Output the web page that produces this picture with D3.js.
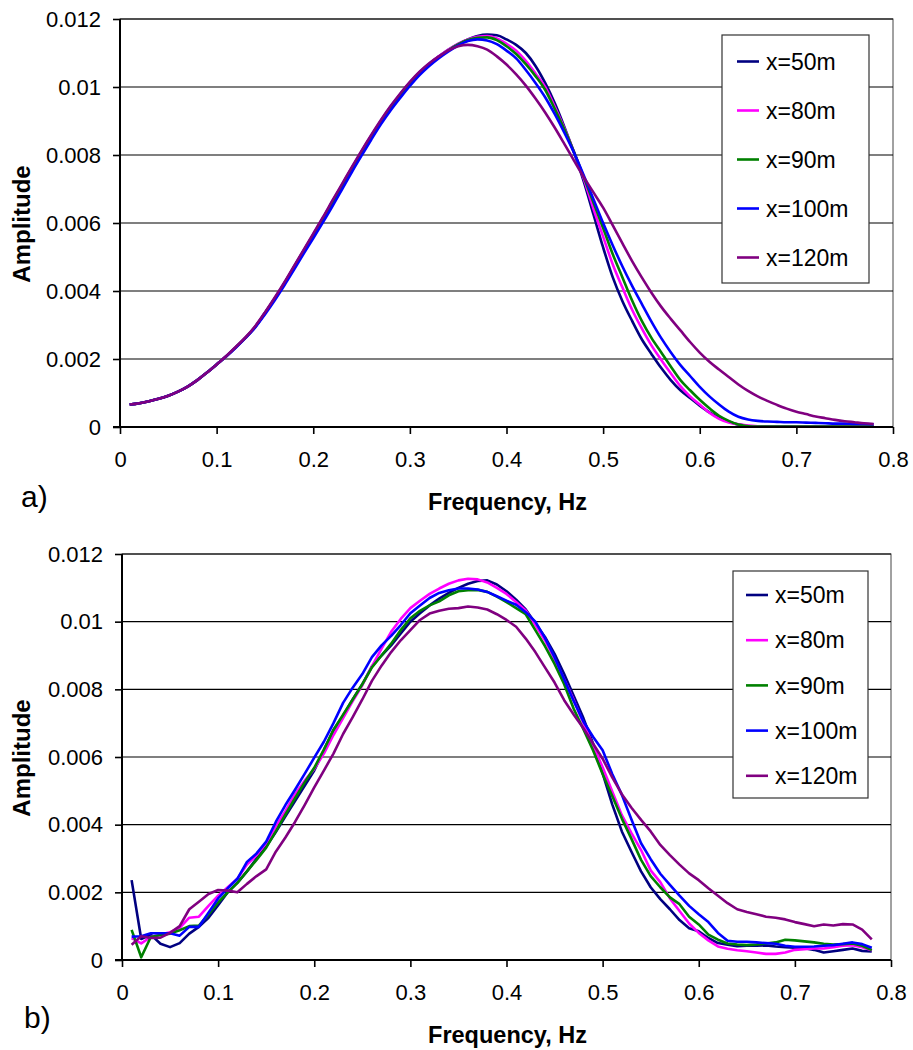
<!DOCTYPE html>
<html>
<head>
<meta charset="utf-8">
<script src="https://cdn.jsdelivr.net/npm/d3@7"></script>
<style>
  html, body { margin: 0; padding: 0; background: #fff; }
  svg { display: block; }
  text { font-family: "Liberation Sans", Arial, sans-serif; fill: #000; }
</style>
</head>
<body>
<svg id="fig" width="913" height="1050"></svg>
<script>
// Frequency samples (Hz)
const freq = [0.01,0.02,0.03,0.04,0.05,0.06,0.07,0.08,0.09,0.10,
  0.11,0.12,0.13,0.14,0.15,0.16,0.17,0.18,0.19,0.20,
  0.21,0.22,0.23,0.24,0.25,0.26,0.27,0.28,0.29,0.30,
  0.31,0.32,0.33,0.34,0.35,0.36,0.37,0.38,0.39,0.40,
  0.41,0.42,0.43,0.44,0.45,0.46,0.47,0.48,0.49,0.50,
  0.51,0.52,0.53,0.54,0.55,0.56,0.57,0.58,0.59,0.60,
  0.61,0.62,0.63,0.64,0.65,0.66,0.67,0.68,0.69,0.70,
  0.71,0.72,0.73,0.74,0.75,0.76,0.77,0.78];

const seriesNames = ["x=50m", "x=80m", "x=90m", "x=100m", "x=120m"];
const seriesColors = ["#000080", "#FF00FF", "#008000", "#0000FF", "#800080"];

const xTicks = [0, 0.1, 0.2, 0.3, 0.4, 0.5, 0.6, 0.7, 0.8];
const xTickLabels = ["0", "0.1", "0.2", "0.3", "0.4", "0.5", "0.6", "0.7", "0.8"];
const yTicks = [0, 0.002, 0.004, 0.006, 0.008, 0.010, 0.012];
const yTickLabels = ["0", "0.002", "0.004", "0.006", "0.008", "0.01", "0.012"];

// Panel a) amplitude spectra
const a50 = [0.00066,0.00070,0.00076,0.00083,0.00092,0.00104,0.00119,0.00138,0.00160,0.00184,
  0.00208,0.00235,0.00263,0.00295,0.00335,0.00377,0.00422,0.00470,0.00518,0.00566,
  0.00614,0.00664,0.00713,0.00762,0.00810,0.00856,0.00900,0.00941,0.00978,0.01013,
  0.01043,0.01068,0.01090,0.01110,0.01127,0.01140,0.01150,0.01154,0.01152,0.01140,
  0.01124,0.01100,0.01062,0.01012,0.00952,0.00882,0.00806,0.00722,0.00625,0.00528,
  0.00440,0.00370,0.00312,0.00258,0.00215,0.00174,0.00138,0.00108,0.00085,0.00063,
  0.00043,0.00027,0.00016,0.00007,0.00003,0.00001,0.00001,0.00001,0.00001,0.00001,
  0.00001,0.00001,0.00001,0.00001,0.00001,0.00001,0.00001,0.00001];
const a80 = [0.00066,0.00070,0.00076,0.00083,0.00092,0.00104,0.00119,0.00138,0.00160,0.00184,
  0.00208,0.00235,0.00263,0.00295,0.00335,0.00377,0.00422,0.00470,0.00518,0.00566,
  0.00614,0.00664,0.00713,0.00762,0.00810,0.00856,0.00900,0.00941,0.00978,0.01013,
  0.01043,0.01068,0.01090,0.01110,0.01127,0.01140,0.01148,0.01150,0.01143,0.01127,
  0.01107,0.01077,0.01040,0.01000,0.00942,0.00878,0.00808,0.00730,0.00642,0.00560,
  0.00478,0.00410,0.00345,0.00290,0.00240,0.00198,0.00158,0.00120,0.00090,0.00066,
  0.00042,0.00024,0.00013,0.00008,0.00004,0.00002,0.00001,0.00001,0.00001,0.00001,
  0.00001,0.00001,0.00001,0.00001,0.00001,0.00001,0.00001,0.00001];
const a90 = [0.00066,0.00070,0.00076,0.00083,0.00092,0.00104,0.00119,0.00138,0.00160,0.00184,
  0.00208,0.00235,0.00263,0.00295,0.00335,0.00377,0.00422,0.00470,0.00518,0.00563,
  0.00610,0.00660,0.00709,0.00758,0.00806,0.00852,0.00896,0.00937,0.00974,0.01009,
  0.01040,0.01065,0.01088,0.01108,0.01125,0.01138,0.01145,0.01146,0.01138,0.01120,
  0.01097,0.01067,0.01032,0.00992,0.00935,0.00875,0.00808,0.00735,0.00660,0.00585,
  0.00508,0.00440,0.00372,0.00312,0.00262,0.00220,0.00178,0.00138,0.00108,0.00080,
  0.00055,0.00033,0.00018,0.00007,0.00002,0.00001,0.00001,0.00001,0.00001,0.00001,
  0.00001,0.00001,0.00001,0.00001,0.00001,0.00001,0.00001,0.00001];
const a100 = [0.00066,0.00070,0.00076,0.00083,0.00092,0.00104,0.00119,0.00138,0.00160,0.00184,
  0.00208,0.00234,0.00262,0.00293,0.00331,0.00372,0.00416,0.00462,0.00509,0.00555,
  0.00602,0.00650,0.00700,0.00750,0.00798,0.00845,0.00890,0.00931,0.00968,0.01003,
  0.01035,0.01062,0.01085,0.01105,0.01122,0.01135,0.01140,0.01137,0.01126,0.01107,
  0.01084,0.01050,0.01012,0.00970,0.00920,0.00865,0.00806,0.00740,0.00670,0.00600,
  0.00534,0.00472,0.00415,0.00362,0.00310,0.00262,0.00220,0.00182,0.00150,0.00118,
  0.00090,0.00066,0.00045,0.00030,0.00022,0.00018,0.00016,0.00015,0.00014,0.00014,
  0.00013,0.00012,0.00011,0.00010,0.00010,0.00009,0.00009,0.00008];
const a120 = [0.00066,0.00070,0.00076,0.00083,0.00092,0.00104,0.00119,0.00138,0.00160,0.00184,
  0.00209,0.00236,0.00264,0.00297,0.00337,0.00380,0.00425,0.00473,0.00521,0.00569,
  0.00617,0.00667,0.00716,0.00765,0.00813,0.00859,0.00903,0.00944,0.00981,0.01015,
  0.01045,0.01070,0.01090,0.01108,0.01120,0.01124,0.01120,0.01110,0.01090,0.01066,
  0.01037,0.01004,0.00966,0.00925,0.00880,0.00832,0.00783,0.00735,0.00690,0.00645,
  0.00593,0.00540,0.00488,0.00440,0.00395,0.00354,0.00318,0.00284,0.00250,0.00219,
  0.00192,0.00169,0.00147,0.00125,0.00106,0.00090,0.00077,0.00065,0.00054,0.00045,
  0.00038,0.00031,0.00026,0.00021,0.00017,0.00014,0.00011,0.00009];

// Panel b) amplitude spectra
const b50 = [0.00236,0.00062,0.00075,0.00048,0.00038,0.00050,0.00078,0.00098,0.00125,0.00162,
  0.00200,0.00228,0.00262,0.00300,0.00335,0.00378,0.00425,0.00470,0.00515,0.00560,
  0.00620,0.00680,0.00722,0.00770,0.00815,0.00868,0.00900,0.00930,0.00965,0.01000,
  0.01025,0.01048,0.01068,0.01085,0.01100,0.01112,0.01120,0.01122,0.01110,0.01090,
  0.01065,0.01036,0.00995,0.00955,0.00905,0.00845,0.00780,0.00715,0.00640,0.00552,
  0.00460,0.00380,0.00320,0.00262,0.00215,0.00180,0.00150,0.00118,0.00094,0.00085,
  0.00065,0.00050,0.00045,0.00041,0.00042,0.00042,0.00043,0.00040,0.00038,0.00036,
  0.00035,0.00030,0.00022,0.00026,0.00030,0.00034,0.00027,0.00025];
const b80 = [0.00065,0.00049,0.00068,0.00075,0.00082,0.00095,0.00125,0.00128,0.00160,0.00190,
  0.00215,0.00240,0.00282,0.00310,0.00345,0.00395,0.00440,0.00490,0.00530,0.00565,
  0.00610,0.00665,0.00715,0.00765,0.00812,0.00868,0.00920,0.00970,0.01008,0.01040,
  0.01062,0.01082,0.01098,0.01112,0.01122,0.01127,0.01125,0.01116,0.01100,0.01082,
  0.01058,0.01033,0.00990,0.00945,0.00890,0.00830,0.00768,0.00700,0.00635,0.00570,
  0.00498,0.00428,0.00375,0.00325,0.00265,0.00230,0.00182,0.00145,0.00108,0.00080,
  0.00058,0.00040,0.00033,0.00029,0.00026,0.00022,0.00018,0.00018,0.00022,0.00030,
  0.00032,0.00034,0.00034,0.00038,0.00042,0.00044,0.00038,0.00029];
const b90 = [0.00089,0.00008,0.00068,0.00074,0.00078,0.00088,0.00100,0.00102,0.00135,0.00170,
  0.00200,0.00228,0.00262,0.00296,0.00332,0.00380,0.00430,0.00478,0.00525,0.00568,
  0.00622,0.00680,0.00725,0.00770,0.00815,0.00865,0.00900,0.00935,0.00975,0.01010,
  0.01032,0.01048,0.01060,0.01078,0.01090,0.01093,0.01094,0.01088,0.01074,0.01058,
  0.01040,0.01022,0.00975,0.00928,0.00875,0.00815,0.00742,0.00682,0.00620,0.00550,
  0.00485,0.00418,0.00358,0.00296,0.00248,0.00215,0.00185,0.00165,0.00128,0.00105,
  0.00075,0.00060,0.00049,0.00046,0.00044,0.00046,0.00049,0.00052,0.00060,0.00058,
  0.00055,0.00052,0.00048,0.00046,0.00047,0.00049,0.00042,0.00029];
const b100 = [0.00069,0.00070,0.00079,0.00079,0.00079,0.00072,0.00098,0.00098,0.00140,0.00182,
  0.00212,0.00240,0.00290,0.00315,0.00350,0.00408,0.00458,0.00503,0.00550,0.00598,
  0.00645,0.00700,0.00760,0.00805,0.00845,0.00895,0.00930,0.00958,0.00990,0.01025,
  0.01048,0.01070,0.01085,0.01093,0.01098,0.01098,0.01095,0.01088,0.01075,0.01062,
  0.01050,0.01028,0.01000,0.00952,0.00895,0.00830,0.00765,0.00705,0.00660,0.00620,
  0.00550,0.00488,0.00415,0.00345,0.00298,0.00255,0.00222,0.00190,0.00160,0.00135,
  0.00112,0.00080,0.00057,0.00054,0.00054,0.00052,0.00050,0.00048,0.00042,0.00039,
  0.00039,0.00040,0.00042,0.00044,0.00048,0.00052,0.00047,0.00036];
const b120 = [0.00045,0.00070,0.00065,0.00066,0.00080,0.00100,0.00150,0.00172,0.00195,0.00207,
  0.00205,0.00200,0.00225,0.00248,0.00268,0.00320,0.00362,0.00408,0.00458,0.00510,
  0.00560,0.00610,0.00668,0.00718,0.00770,0.00825,0.00870,0.00910,0.00945,0.00975,
  0.01005,0.01024,0.01032,0.01038,0.01040,0.01045,0.01042,0.01036,0.01022,0.01005,
  0.00985,0.00950,0.00910,0.00865,0.00820,0.00768,0.00725,0.00685,0.00640,0.00595,
  0.00540,0.00490,0.00450,0.00414,0.00380,0.00340,0.00310,0.00282,0.00256,0.00236,
  0.00212,0.00190,0.00168,0.00150,0.00142,0.00135,0.00128,0.00125,0.00120,0.00112,
  0.00106,0.00100,0.00105,0.00102,0.00106,0.00105,0.00090,0.00061];

const svg = d3.select("#fig");

function drawPanel(cfg) {
  const g = svg.append("g");
  const x = d3.scaleLinear().domain([0, 0.8]).range([cfg.left, cfg.right]);
  const y = d3.scaleLinear().domain([0, 0.012]).range([cfg.bottom, cfg.top]);

  // plot frame
  g.append("rect")
    .attr("x", cfg.left).attr("y", cfg.top)
    .attr("width", cfg.right - cfg.left).attr("height", cfg.bottom - cfg.top)
    .attr("fill", "#fff").attr("stroke", "#444").attr("stroke-width", 1);

  // horizontal gridlines
  g.append("g").selectAll("line")
    .data(yTicks.filter(v => v > 0))
    .join("line")
    .attr("x1", cfg.left).attr("x2", cfg.right)
    .attr("y1", d => y(d)).attr("y2", d => y(d))
    .attr("stroke", "#000").attr("stroke-width", 1.2);

  // series
  const line = d3.line()
    .x((d, i) => x(freq[i]))
    .y(d => y(d))
    .curve(cfg.curve);
  cfg.series.forEach((s, k) => {
    g.append("path")
      .attr("d", line(s))
      .attr("fill", "none")
      .attr("stroke", seriesColors[k])
      .attr("stroke-width", 2.6)
      .attr("stroke-linejoin", "round");
  });

  // axes
  const yAxis = d3.axisLeft(y)
    .tickValues(yTicks)
    .tickFormat((d, i) => yTickLabels[i])
    .tickSize(7).tickPadding(12);
  const ga = g.append("g").attr("transform", `translate(${cfg.left},0)`).call(yAxis);
  const xAxis = d3.axisBottom(x)
    .tickValues(xTicks)
    .tickFormat((d, i) => xTickLabels[i])
    .tickSize(7).tickPadding(17);
  const gb = g.append("g").attr("transform", `translate(0,${cfg.bottom})`).call(xAxis);
  [ga, gb].forEach(ax => {
    ax.select(".domain").remove();
    ax.selectAll(".tick line").attr("stroke", "#000").attr("stroke-width", 1.6);
    ax.selectAll(".tick text")
      .style("font-family", '"Liberation Sans", Arial, sans-serif')
      .style("font-size", "22px").attr("fill", "#000");
  });
  g.append("line")
    .attr("x1", cfg.left).attr("x2", cfg.left)
    .attr("y1", cfg.top).attr("y2", cfg.bottom + 0.5)
    .attr("stroke", "#000").attr("stroke-width", 2);
  g.append("line")
    .attr("x1", cfg.left - 7).attr("x2", cfg.right)
    .attr("y1", cfg.bottom).attr("y2", cfg.bottom)
    .attr("stroke", "#000").attr("stroke-width", 2);

  // axis titles
  g.append("text")
    .attr("x", (cfg.left + cfg.right) / 2 + 1)
    .attr("y", cfg.bottom + 83)
    .attr("text-anchor", "middle")
    .style("font-size", "23.5px").style("font-weight", "bold")
    .text("Frequency, Hz");
  g.append("text")
    .attr("transform", `translate(30,${(cfg.top + cfg.bottom) / 2 + 1}) rotate(-90)`)
    .attr("text-anchor", "middle")
    .style("font-size", "24px").style("font-weight", "bold")
    .text("Amplitude");

  // panel tag
  g.append("text")
    .attr("x", cfg.tagX).attr("y", cfg.tagY)
    .style("font-size", "30px")
    .text(cfg.tag);

  // legend
  const lg = g.append("g");
  lg.append("rect")
    .attr("x", cfg.legend.x).attr("y", cfg.legend.y)
    .attr("width", cfg.legend.w).attr("height", cfg.legend.h)
    .attr("fill", "#fff").attr("stroke", "#333").attr("stroke-width", 1.2);
  seriesNames.forEach((name, k) => {
    const yy = cfg.legend.y0 + k * cfg.legend.step;
    lg.append("line")
      .attr("x1", cfg.legend.lx).attr("x2", cfg.legend.lx + 22)
      .attr("y1", yy).attr("y2", yy)
      .attr("stroke", seriesColors[k]).attr("stroke-width", 2.6);
    lg.append("text")
      .attr("x", cfg.legend.lx + 29).attr("y", yy)
      .attr("dy", "0.36em")
      .style("font-size", "23px")
      .text(name);
  });
}

drawPanel({
  left: 120, right: 893, top: 19, bottom: 427,
  series: [a50, a80, a90, a100, a120],
  curve: d3.curveMonotoneX,
  tag: "a)", tagX: 21, tagY: 507,
  legend: { x: 722, y: 35, w: 147, h: 248, y0: 61.5, step: 49, lx: 737 }
});

drawPanel({
  left: 122, right: 891, top: 554, bottom: 960,
  series: [b50, b80, b90, b100, b120],
  curve: d3.curveLinear,
  tag: "b)", tagX: 24, tagY: 1028,
  legend: { x: 733, y: 571, w: 135, h: 227, y0: 595, step: 45.2, lx: 746 }
});
</script>
</body>
</html>
